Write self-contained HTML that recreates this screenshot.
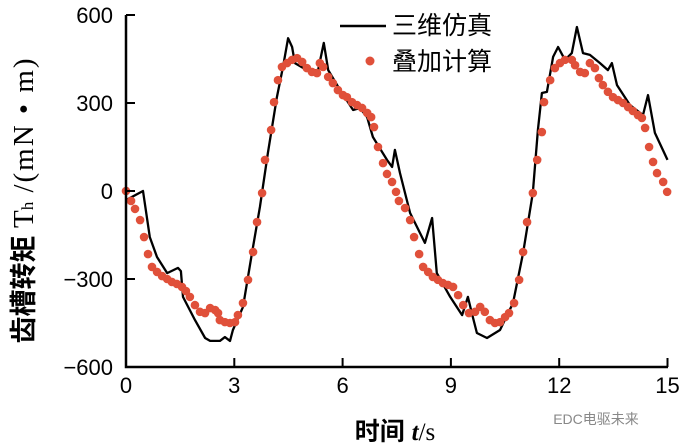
<!DOCTYPE html>
<html><head><meta charset="utf-8"><style>
body{margin:0;background:#fff}
svg{display:block}
text{font-family:"Liberation Sans","Noto Sans CJK SC",sans-serif;fill:#000}
</style></head><body>
<svg width="680" height="448" viewBox="0 0 680 448" xmlns="http://www.w3.org/2000/svg">
<g id="plot"></g>
<g id="axes"></g>
<g>
<line x1="340" y1="26" x2="386" y2="26" stroke="#000" stroke-width="2.5"/>
<text x="392" y="34" font-size="25">三维仿真</text>
<circle cx="370" cy="61" r="4.5" fill="#e0503a"/>
<text x="392" y="70" font-size="25">叠加计算</text>
</g>
<text x="395" y="440" font-size="25" text-anchor="middle" font-weight="bold">时间 <tspan font-family="Liberation Serif" font-style="italic">t</tspan><tspan font-family="Liberation Serif" font-weight="normal">/s</tspan></text>
<text transform="translate(33,200) rotate(-90)" font-size="27" text-anchor="middle" font-weight="bold">齿槽转矩 <tspan font-family="Liberation Serif" font-weight="normal" font-size="29">T</tspan><tspan font-family="Liberation Serif" font-size="17" font-weight="normal">h</tspan><tspan font-family="Liberation Serif" font-weight="normal" font-size="29" letter-spacing="2"> /(mN • m)</tspan></text>
<text x="596" y="424" font-size="14" text-anchor="middle" style="fill:#888">EDC电驱未来</text>
</svg>
<script>
const xTicks=[0,3,6,9,12,15];
const yTicks=[-600,-300,0,300,600];
const yTickLabels=["−600","−300","0","300","600"];
const lineT=[0,0.47,0.66,0.86,1.14,1.44,1.52,1.58,1.91,2.19,2.33,2.6,2.74,2.88,2.96,3.24,3.49,3.71,3.93,4.18,4.35,4.49,4.6,4.68,5.01,5.32,5.48,5.6,5.93,6.29,6.48,6.68,6.84,7.23,7.37,7.45,7.59,7.87,8.28,8.48,8.61,8.98,9.31,9.47,9.58,9.72,10.0,10.36,10.72,11.0,11.27,11.41,11.52,11.66,11.83,11.97,12.16,12.35,12.49,12.66,12.85,13.13,13.35,13.46,13.6,13.96,14.32,14.46,14.65,15];
const lineV=[-31,0,-157,-225,-280,-262,-273,-361,-440,-501,-511,-511,-498,-511,-474,-395,-211,-55,130,320,423,521,491,436,412,412,505,412,344,276,283,252,184,106,82,140,61,-75,-177,-92,-280,-361,-423,-361,-416,-484,-501,-474,-382,-211,-7,208,334,338,457,491,447,470,559,470,464,436,412,436,361,293,259,327,198,106];
const dotT=[0,0.14,0.25,0.39,0.5,0.61,0.72,0.86,1.0,1.14,1.27,1.41,1.55,1.66,1.77,1.91,2.05,2.19,2.33,2.47,2.55,2.6,2.74,2.88,3.02,3.1,3.24,3.38,3.52,3.63,3.77,3.85,4.02,4.1,4.21,4.32,4.46,4.6,4.74,4.88,5.01,5.15,5.29,5.37,5.46,5.6,5.73,5.87,6.01,6.12,6.26,6.4,6.54,6.68,6.79,6.87,6.98,7.12,7.23,7.37,7.48,7.56,7.73,7.87,7.98,8.12,8.23,8.37,8.5,8.64,8.78,8.92,9.06,9.2,9.34,9.5,9.67,9.81,9.94,10.08,10.22,10.36,10.5,10.61,10.75,10.89,11.0,11.11,11.27,11.39,11.52,11.58,11.75,11.88,12.02,12.16,12.35,12.44,12.58,12.71,12.85,12.99,13.1,13.21,13.35,13.49,13.63,13.77,13.91,14.04,14.18,14.29,14.38,14.49,14.6,14.71,14.88,14.99];
const dotV=[0,-34,-61,-99,-157,-215,-259,-276,-290,-300,-310,-317,-327,-341,-361,-389,-412,-416,-399,-406,-416,-440,-447,-450,-447,-423,-382,-303,-208,-106,-7,106,208,303,378,423,436,447,453,440,419,406,402,436,423,389,368,344,327,320,303,293,283,266,252,218,150,95,58,31,-3,-34,-58,-99,-157,-215,-259,-276,-293,-303,-314,-320,-327,-355,-389,-416,-412,-395,-412,-440,-450,-447,-430,-416,-382,-303,-208,-106,-7,106,201,303,378,419,436,447,447,429,406,402,436,419,385,361,338,320,310,300,286,273,259,249,215,150,99,61,31,-3];
const NS="http://www.w3.org/2000/svg";
const X=t=>126+t*36.1;
const Y=v=>191-v*88/300;
const plot=document.getElementById('plot'),axes=document.getElementById('axes');
function mk(tag,attrs,parent){const e=document.createElementNS(NS,tag);for(const k in attrs)e.setAttribute(k,attrs[k]);parent.appendChild(e);return e;}
let d=lineT.map((t,i)=>(i?'L':'M')+X(t).toFixed(1)+','+Y(lineV[i]).toFixed(1)).join('');
const ln=mk('path',{d:d,fill:'none',stroke:'#000','stroke-width':2.3,'stroke-linejoin':'round'},plot);


dotT.forEach((t,i)=>{const c=mk('circle',{cx:X(t),cy:Y(dotV[i]),r:4.3,fill:'#e0503a'},plot);

});
const ax=mk('path',{d:'M126,15V367H668',fill:'none',stroke:'#000','stroke-width':2.5},axes);


xTicks.forEach(t=>{const tk=mk('line',{x1:X(t),x2:X(t),y1:367,y2:358,stroke:'#000','stroke-width':2},axes);


const tx=mk('text',{x:X(t),y:393,'font-size':22,'text-anchor':'middle'},axes);tx.textContent=t;

});
yTicks.forEach((v,i)=>{const tk=mk('line',{x1:126,x2:135,y1:Y(v),y2:Y(v),stroke:'#000','stroke-width':2},axes);


const tx=mk('text',{x:113,y:Y(v)+8,'font-size':22,'text-anchor':'end'},axes);tx.textContent=yTickLabels[i];

});
</script>
</body></html>
